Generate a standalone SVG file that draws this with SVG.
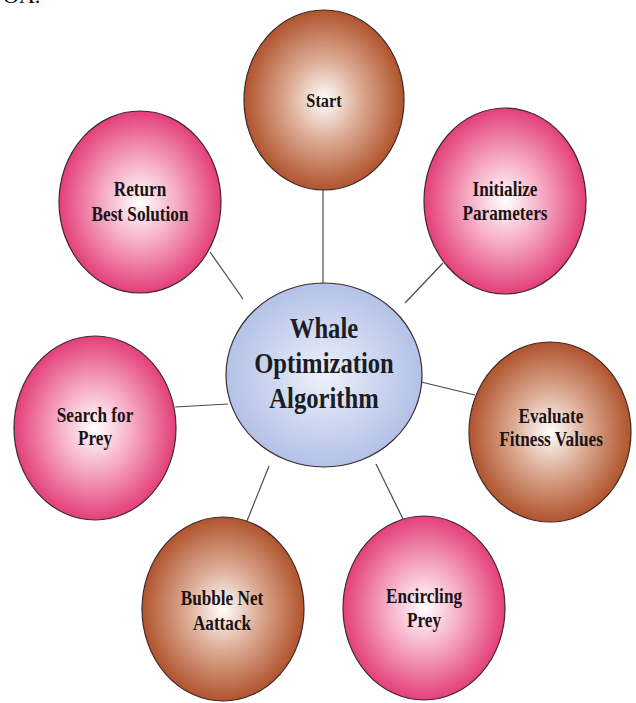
<svg xmlns="http://www.w3.org/2000/svg" width="636" height="703" viewBox="0 0 636 703">
<defs>
<radialGradient id="gPink" cx="50%" cy="50%" r="50%">
<stop offset="0" stop-color="#ffffff"/>
<stop offset="0.45" stop-color="#f6adc6"/>
<stop offset="1" stop-color="#e33f78"/>
</radialGradient>
<radialGradient id="gBrown" cx="50%" cy="50%" r="50%">
<stop offset="0" stop-color="#ffffff"/>
<stop offset="0.45" stop-color="#dcab94"/>
<stop offset="1" stop-color="#b0542d"/>
</radialGradient>
<radialGradient id="gBlue" cx="50%" cy="50%" r="50%">
<stop offset="0" stop-color="#eef1fb"/>
<stop offset="1" stop-color="#b3c1e7"/>
</radialGradient>
</defs>
<style>
.node ellipse { stroke: #3d2a2e; stroke-width: 1.2; }
.pink { fill: url(#gPink); }
.brown { fill: url(#gBrown); }
.blue { fill: url(#gBlue); stroke: #4a5470; }
.lbl { font-weight: bold; font-size: 20px; fill: #1a1414; text-anchor: middle; }
.big { font-size: 29px; fill: #1c1c24; }
#connectors line { stroke: #4a4a4a; stroke-width: 1.2; }
</style>
<rect width="636" height="703" fill="#ffffff"/>
<text x="3" y="3" font-family="'Liberation Serif', serif" font-size="22" fill="#000">OA.</text>
<g id="connectors">
<line x1="323" y1="188" x2="323" y2="284"/>
<line x1="210" y1="252" x2="243" y2="299"/>
<line x1="443" y1="263" x2="405" y2="303"/>
<line x1="421" y1="382" x2="475" y2="395"/>
<line x1="175" y1="407" x2="228" y2="404"/>
<line x1="269" y1="466" x2="247" y2="521"/>
<line x1="376" y1="464" x2="403" y2="519"/>
</g>
<g font-family="'Liberation Serif', 'Times New Roman', serif">
<g id="n-start" class="node">
<ellipse class="brown" cx="324" cy="100" rx="80" ry="90"/>
<g transform="translate(324,0) scale(0.86,1)"><text class="lbl" x="0" y="107" style="font-size:19px">Start</text></g>
</g>
<g id="n-return" class="node">
<ellipse class="pink" cx="140" cy="202" rx="81" ry="91"/>
<g transform="translate(140,0) scale(0.86,1)"><text class="lbl" x="0" y="196">Return</text><text class="lbl" x="0" y="221">Best Solution</text></g>
</g>
<g id="n-init" class="node">
<ellipse class="pink" cx="505" cy="201" rx="81" ry="93"/>
<g transform="translate(505,0) scale(0.86,1)"><text class="lbl" x="0" y="196">Initialize</text><text class="lbl" x="0" y="220">Parameters</text></g>
</g>
<g id="n-center" class="node">
<ellipse class="blue" cx="324" cy="375" rx="98" ry="92"/>
<g transform="translate(324,0) scale(0.85,1)"><text class="lbl big" x="0" y="338">Whale</text><text class="lbl big" x="0" y="373">Optimization</text><text class="lbl big" x="0" y="408">Algorithm</text></g>
</g>
<g id="n-eval" class="node">
<ellipse class="brown" cx="550" cy="432" rx="81" ry="90"/>
<g transform="translate(551,0) scale(0.86,1)"><text class="lbl" x="0" y="423">Evaluate</text><text class="lbl" x="0" y="446">Fitness Values</text></g>
</g>
<g id="n-search" class="node">
<ellipse class="pink" cx="95" cy="428" rx="81" ry="92"/>
<g transform="translate(95,0) scale(0.86,1)"><text class="lbl" x="0" y="422">Search for</text><text class="lbl" x="0" y="445">Prey</text></g>
</g>
<g id="n-bubble" class="node">
<ellipse class="brown" cx="223" cy="609" rx="81" ry="92"/>
<g transform="translate(222,0) scale(0.86,1)"><text class="lbl" x="0" y="605">Bubble Net</text><text class="lbl" x="0" y="630">Aattack</text></g>
</g>
<g id="n-encircle" class="node">
<ellipse class="pink" cx="424" cy="608" rx="81" ry="92"/>
<g transform="translate(424,0) scale(0.86,1)"><text class="lbl" x="0" y="603">Encircling</text><text class="lbl" x="0" y="627">Prey</text></g>
</g>
</g>
</svg>
